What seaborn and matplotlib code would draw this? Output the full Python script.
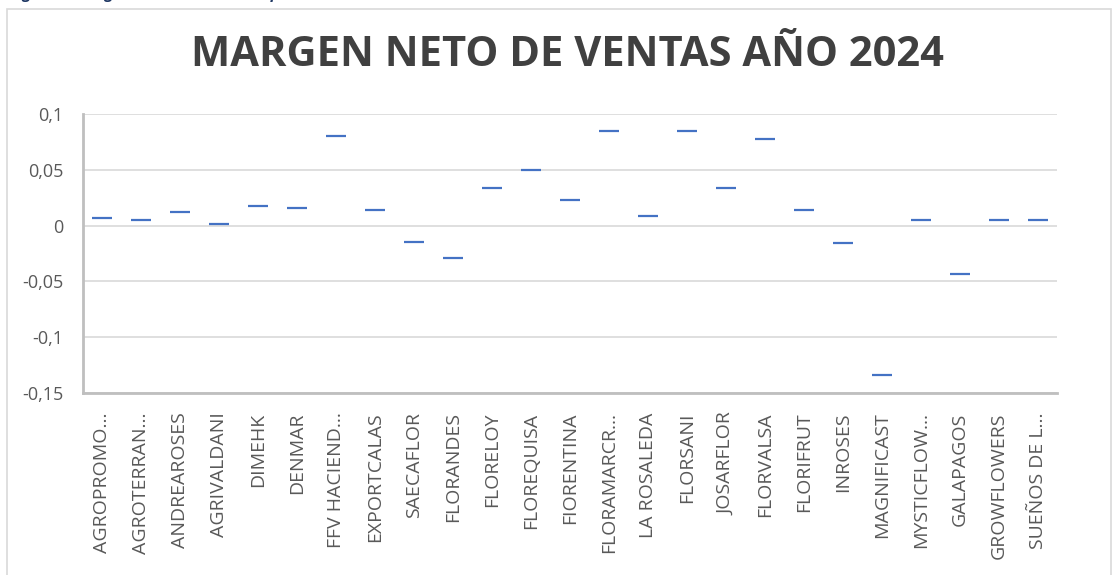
import matplotlib
matplotlib.use("Agg")
import matplotlib.pyplot as plt
import seaborn as sns
import pandas as pd
from matplotlib.patches import Rectangle

empresas = ["AGROPROMO...", "AGROTERRAN...", "ANDREAROSES", "AGRIVALDANI", "DIMEHK",
            "DENMAR", "FFV HACIEND...", "EXPORTCALAS", "SAECAFLOR", "FLORANDES",
            "FLORELOY", "FLOREQUISA", "FIORENTINA", "FLORAMARCR...", "LA ROSALEDA",
            "FLORSANI", "JOSARFLOR", "FLORVALSA", "FLORIFRUT", "INROSES",
            "MAGNIFICAST", "MYSTICFLOW...", "GALAPAGOS", "GROWFLOWERS", "SUEÑOS DE L..."]
margen = [0.007, 0.005, 0.012, 0.001, 0.018,
          0.016, 0.080, 0.014, -0.015, -0.029,
          0.034, 0.050, 0.023, 0.085, 0.009,
          0.085, 0.034, 0.078, 0.014, -0.016,
          -0.134, 0.005, -0.043, 0.005, 0.005]
y_ticks = [0.1, 0.05, 0, -0.05, -0.1, -0.15]
y_labels = ["0,1", "0,05", "0", "-0,05", "-0,1", "-0,15"]

df = pd.DataFrame({"empresa": empresas, "margen": margen})

sns.set_style("white")
plt.rcParams["font.family"] = ["Open Sans", "DejaVu Sans"]

fig = plt.figure(figsize=(11.14, 5.75), dpi=100)
W, H = 1114, 575
ax = fig.add_axes([83 / W, (H - 393) / H, 974 / W, 279 / H])

# outer chart border
fig.patches.append(Rectangle((7 / W, -0.1), 1104 / W, 1.1 - 9 / H, transform=fig.transFigure,
                             fill=False, edgecolor="#D9D9D9", linewidth=1.2))

# caption above the chart, mostly cut off like in the source
fig.text(10 / W, 1 + 1 / H, "Figura 7. Margen Neto de Ventas Empresas Estudiadas Sector Florícola 2024",
         color="#1F3864", fontsize=11, fontweight="bold", fontstyle="italic",
         ha="left", va="baseline")

x = list(range(len(empresas)))
sns.scatterplot(x=x, y=df["margen"], marker="_", s=200, linewidth=1.6,
                color="#4472C4", ax=ax, zorder=3)

ax.set_xlim(-0.5, len(empresas) - 0.5)
ax.set_ylim(-0.15, 0.1)
ax.set_yticks(y_ticks)
ax.set_yticklabels(y_labels)
ax.set_xticks(x)
ax.set_xticklabels(empresas, rotation=90, va="top", ha="center")
ax.tick_params(axis="both", length=0, labelcolor="#595959")
ax.tick_params(axis="y", pad=14, labelsize=13)
ax.tick_params(axis="x", pad=14, labelsize=14)
ax.grid(axis="y", color="#D9D9D9", linewidth=1.2)
ax.set_axisbelow(True)
ax.set_xlabel("")
ax.set_ylabel("")
for side in ["top", "right"]:
    ax.spines[side].set_visible(False)
for side in ["left", "bottom"]:
    ax.spines[side].set_color("#BFBFBF")
    ax.spines[side].set_linewidth(2)

fig.text(567 / W, 1 - 56 / H, "MARGEN NETO DE VENTAS AÑO 2024", ha="center", va="center",
         fontsize=30, fontweight="bold", color="#404040")

fig.savefig("out.png", dpi=100)
